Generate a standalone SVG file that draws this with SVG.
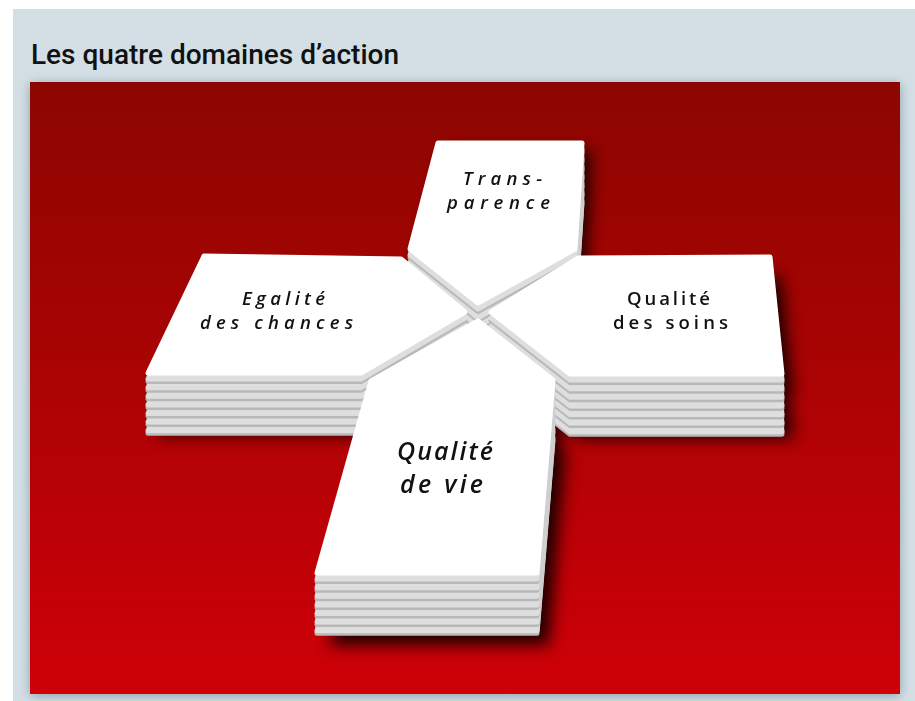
<svg xmlns="http://www.w3.org/2000/svg" width="915" height="701" viewBox="0 0 915 701">
<defs>
<linearGradient id="bg" x1="0" y1="0" x2="0" y2="1">
<stop offset="0" stop-color="#8c0600"/>
<stop offset="0.5" stop-color="#ac0304"/>
<stop offset="1" stop-color="#ce0008"/>
</linearGradient>
<filter id="blur" x="-30%" y="-30%" width="160%" height="160%"><feGaussianBlur stdDeviation="8"/></filter>
<filter id="pblur" x="-10%" y="-10%" width="120%" height="120%"><feGaussianBlur stdDeviation="6"/></filter>
<polygon id="pT" points="438,143 582,143 575,249 478,303 410,249"/>
<polygon id="pL" points="204,256 401,259 465,312 361,373 148,373"/>
<polygon id="pR" points="578,258 770,257 782,374 570,374 491,312"/>
<polygon id="pB" points="371,381 478,321 553,380 537,573 317,573"/>
</defs>
<style>
.d{fill:#b8b8b8;stroke:#b8b8b8;stroke-width:5;stroke-linejoin:round}
.l{fill:#dedede;stroke:#dedede;stroke-width:5;stroke-linejoin:round}
.f{fill:#ffffff;stroke:#ffffff;stroke-width:5;stroke-linejoin:round}
.t{font-family:"Open Sans","Liberation Sans",Arial,sans-serif;font-size:18.5px;font-weight:600;fill:#111111}
.i{font-style:italic}
.big{font-size:25px}
</style>
<rect x="0" y="0" width="915" height="701" fill="#ffffff"/>
<rect x="13" y="9" width="902" height="692" fill="#d3dfe5"/>
<text x="31" y="64" font-family="Roboto,'Liberation Sans',sans-serif" font-weight="500" font-size="27" fill="#111111" textLength="368" lengthAdjust="spacingAndGlyphs">Les quatre domaines d’action</text>
<rect x="30" y="84" width="870" height="612" fill="#6f8794" opacity="0.7" filter="url(#pblur)"/>
<rect x="30" y="82" width="870" height="612" fill="url(#bg)"/>
<g id="shadow" filter="url(#blur)" fill="#000000" opacity="0.85">
<use href="#pT" x="9" y="8"/><use href="#pT" x="9" y="40"/>
<use href="#pL" x="8" y="20"/><use href="#pL" x="8" y="62"/>
<use href="#pR" x="11" y="20"/><use href="#pR" x="11" y="64"/>
<use href="#pB" x="10" y="20"/><use href="#pB" x="12" y="72"/>
</g>
<g id="transparence">
<use href="#pT" class="d" y="60.2"/><use href="#pT" class="l" y="57.7"/>
<use href="#pT" class="d" y="51.6"/><use href="#pT" class="l" y="49.1"/>
<use href="#pT" class="d" y="43"/><use href="#pT" class="l" y="40.5"/>
<use href="#pT" class="d" y="34.4"/><use href="#pT" class="l" y="31.9"/>
<use href="#pT" class="d" y="25.8"/><use href="#pT" class="l" y="23.3"/>
<use href="#pT" class="d" y="17.2"/><use href="#pT" class="l" y="14.7"/>
<use href="#pT" class="d" y="8.6"/><use href="#pT" class="l" y="6.1"/>
<use href="#pT" class="f"/>
<text class="t i" x="463" y="185" textLength="79" lengthAdjust="spacing">Trans-</text>
<text class="t i" x="447" y="209" textLength="103" lengthAdjust="spacing">parence</text>
</g>
<g id="egalite">
<use href="#pL" class="d" y="60.2"/><use href="#pL" class="l" y="57.7"/>
<use href="#pL" class="d" y="51.6"/><use href="#pL" class="l" y="49.1"/>
<use href="#pL" class="d" y="43"/><use href="#pL" class="l" y="40.5"/>
<use href="#pL" class="d" y="34.4"/><use href="#pL" class="l" y="31.9"/>
<use href="#pL" class="d" y="25.8"/><use href="#pL" class="l" y="23.3"/>
<use href="#pL" class="d" y="17.2"/><use href="#pL" class="l" y="14.7"/>
<use href="#pL" class="d" y="8.6"/><use href="#pL" class="l" y="6.1"/>
<use href="#pL" class="f"/>
<text class="t i" x="242" y="305" textLength="83" lengthAdjust="spacing">Egalité</text>
<text class="t i" x="200" y="329" textLength="153" lengthAdjust="spacing">des chances</text>
</g>
<g id="qualite-soins">
<use href="#pR" class="d" y="60.2"/><use href="#pR" class="l" y="57.7"/>
<use href="#pR" class="d" y="51.6"/><use href="#pR" class="l" y="49.1"/>
<use href="#pR" class="d" y="43"/><use href="#pR" class="l" y="40.5"/>
<use href="#pR" class="d" y="34.4"/><use href="#pR" class="l" y="31.9"/>
<use href="#pR" class="d" y="25.8"/><use href="#pR" class="l" y="23.3"/>
<use href="#pR" class="d" y="17.2"/><use href="#pR" class="l" y="14.7"/>
<use href="#pR" class="d" y="8.6"/><use href="#pR" class="l" y="6.1"/>
<use href="#pR" class="f"/>
<text class="t" x="627" y="305" textLength="83" lengthAdjust="spacing">Qualité</text>
<text class="t" x="613" y="329" textLength="115" lengthAdjust="spacing">des soins</text>
</g>
<g id="qualite-vie">
<use href="#pB" class="d" y="60.2"/><use href="#pB" class="l" y="57.7"/>
<use href="#pB" class="d" y="51.6"/><use href="#pB" class="l" y="49.1"/>
<use href="#pB" class="d" y="43"/><use href="#pB" class="l" y="40.5"/>
<use href="#pB" class="d" y="34.4"/><use href="#pB" class="l" y="31.9"/>
<use href="#pB" class="d" y="25.8"/><use href="#pB" class="l" y="23.3"/>
<use href="#pB" class="d" y="17.2"/><use href="#pB" class="l" y="14.7"/>
<use href="#pB" class="d" y="8.6"/><use href="#pB" class="l" y="6.1"/>
<use href="#pB" class="f"/>
<text class="t i big" x="397" y="460" textLength="96" lengthAdjust="spacing">Qualité</text>
<text class="t i big" x="400" y="493" textLength="83" lengthAdjust="spacing">de vie</text>
</g>
<g id="connectors"/>
</svg>
